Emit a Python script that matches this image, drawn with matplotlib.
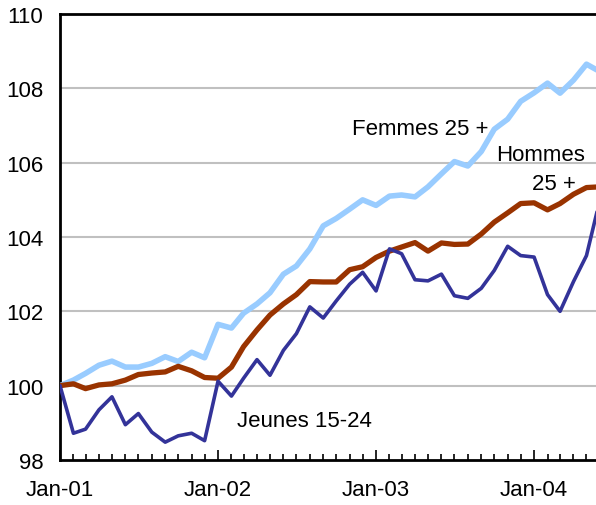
import numpy as np
import pandas as pd
import matplotlib
matplotlib.use("Agg")
import matplotlib.pyplot as plt
import matplotlib.dates as mdates

# monthly index values, Jan-01 = 100
dates = pd.date_range("2001-01-01", periods=42, freq="MS")

femmes_25 = [
    100.0, 100.15, 100.33, 100.55, 100.66, 100.5, 100.5, 100.6, 100.78, 100.65,
    100.9, 100.75, 101.65, 101.55, 101.95, 102.2, 102.5, 103.0, 103.22, 103.68,
    104.3, 104.5, 104.75, 105.0, 104.85, 105.1, 105.13, 105.08, 105.35, 105.7,
    106.03, 105.91, 106.3, 106.9, 107.17, 107.65, 107.88, 108.14, 107.87, 108.22,
    108.65, 108.45,
]
hommes_25 = [
    100.0, 100.05, 99.92, 100.02, 100.05, 100.15, 100.3, 100.34, 100.37, 100.52,
    100.4, 100.22, 100.2, 100.5, 101.05, 101.5, 101.9, 102.2, 102.45, 102.8,
    102.79, 102.79, 103.12, 103.2, 103.45, 103.62, 103.73, 103.85, 103.62, 103.84,
    103.8, 103.81, 104.08, 104.4, 104.65, 104.9, 104.92, 104.73, 104.9, 105.15,
    105.33, 105.35,
]
jeunes_15_24 = [
    100.0, 98.72, 98.83, 99.35, 99.7, 98.95, 99.25, 98.75, 98.48, 98.65,
    98.72, 98.52, 100.12, 99.72, 100.2, 100.7, 100.28, 100.95, 101.4, 102.12,
    101.82, 102.28, 102.73, 103.05, 102.55, 103.68, 103.55, 102.85, 102.82, 103.0,
    102.42, 102.35, 102.62, 103.1, 103.75, 103.5, 103.46, 102.45, 102.0, 102.8,
    103.5, 105.0,
]

y_ticks = [98, 100, 102, 104, 106, 108, 110]

plt.rcParams["font.family"] = ["Liberation Sans", "DejaVu Sans"]

fig = plt.figure(figsize=(5.96, 5.06), dpi=100)
ax = fig.add_axes([60 / 596, 1 - 461 / 506, 1 - 60 / 596, (461 - 15) / 506])

for y in y_ticks[1:-1]:
    ax.axhline(y, color="#c0c0c0", lw=1.5, zorder=1)

line_style = {"solid_capstyle": "round", "solid_joinstyle": "round"}
ax.plot(dates, femmes_25, color="#99ccff", lw=4.0, zorder=3, **line_style)
ax.plot(dates, hommes_25, color="#993300", lw=3.8, zorder=4, **line_style)
ax.plot(dates, jeunes_15_24, color="#333399", lw=2.6, zorder=5, **line_style)

ax.set_ylim(98, 110)
ax.set_xlim(pd.Timestamp("2001-01-01"), pd.Timestamp("2004-05-23"))
ax.set_yticks(y_ticks)

ax.xaxis.set_major_locator(mdates.YearLocator())
ax.xaxis.set_major_formatter(mdates.DateFormatter("%b-%y"))
ax.xaxis.set_minor_locator(mdates.MonthLocator())

ax.tick_params(axis="x", which="major", direction="in", length=7, width=1.2,
               labelsize=16, pad=14)
ax.tick_params(axis="x", which="minor", direction="in", length=4, width=1.2)
ax.tick_params(axis="y", length=0, labelsize=16, pad=12)

for side in ["left", "bottom", "top"]:
    ax.spines[side].set_linewidth(2)
    ax.spines[side].set_color("black")
ax.spines["right"].set_visible(False)

# series labels
ax.text(pd.Timestamp("2002-11-07"), 106.92, "Femmes 25 +", fontsize=16, va="center", ha="left")
ax.text(pd.Timestamp("2003-10-06"), 106.23, "Hommes", fontsize=16, va="center", ha="left")
ax.text(pd.Timestamp("2003-12-28"), 105.43, "25 +", fontsize=16, va="center", ha="left")
ax.text(pd.Timestamp("2002-02-13"), 99.07, "Jeunes 15-24", fontsize=16, va="center", ha="left")

fig.savefig("out.png", dpi=100)
